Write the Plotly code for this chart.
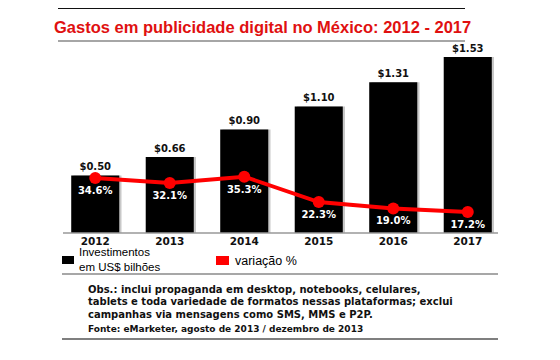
import plotly.graph_objects as go

years = ["2012", "2013", "2014", "2015", "2016", "2017"]
investimentos = [0.50, 0.66, 0.90, 1.10, 1.31, 1.53]
variacao = [34.6, 32.1, 35.3, 22.3, 19.0, 17.2]
valor_labels = ["$0.50", "$0.66", "$0.90", "$1.10", "$1.31", "$1.53"]
var_labels = ["34.6%", "32.1%", "35.3%", "22.3%", "19.0%", "17.2%"]

title_text = "Gastos em publicidade digital no México: 2012 - 2017"
obs_lines = [
    "Obs.: inclui propaganda em desktop, notebooks, celulares,",
    "tablets e toda variedade de formatos nessas plataformas; exclui",
    "campanhas via mensagens como SMS, MMS e P2P.",
]
fonte_text = "Fonte: eMarketer, agosto de 2013 / dezembro de 2013"

OFF = 8  # page body margin
W, H = 560 - OFF, 360 - OFF
PLOT_L, PLOT_R, PLOT_T, PLOT_B = 58, 505, 43, 233  # in reference pixels
L = PLOT_L - OFF
R = W - (PLOT_R - OFF)
T = PLOT_T - OFF
B = H - (PLOT_B - OFF)
PH = PLOT_B - PLOT_T
PW = PLOT_R - PLOT_L


def py(ypx):
    return (PLOT_B - ypx) / PH


def px(xpx):
    return (xpx - PLOT_L) / PW


BW = 0.645
xs = list(range(len(years)))

fig = go.Figure()
# subtle shadow on bars
fig.add_trace(go.Bar(
    x=xs, y=investimentos, width=BW, offset=-BW / 2 + 0.03,
    marker=dict(color="#c8c8c8", line=dict(width=0)),
    hoverinfo="skip", showlegend=False,
))
fig.add_trace(go.Bar(
    x=xs, y=investimentos, width=BW, offset=-BW / 2,
    marker=dict(color="#000000", line=dict(width=0)),
    text=[f"<b>{t}</b>" for t in valor_labels], textposition="outside",
    textfont=dict(family="DejaVu Sans", size=10, color="#111111"),
    cliponaxis=False, showlegend=False,
))
fig.add_trace(go.Scatter(
    x=xs, y=variacao, yaxis="y2", mode="lines+markers+text",
    line=dict(color="#ff0000", width=4),
    marker=dict(color="#ff0000", size=12),
    text=[f"<b>{t}</b>" for t in var_labels], textposition="bottom center",
    textfont=dict(family="DejaVu Sans", size=10, color="#ffffff"),
    cliponaxis=False, showlegend=False,
))

shapes = [
    dict(type="line", xref="paper", yref="paper", x0=px(58), x1=px(465), y0=py(7.5), y1=py(7.5),
         line=dict(color="#111111", width=3)),
    dict(type="line", xref="paper", yref="paper", x0=px(58), x1=px(465), y0=py(41), y1=py(41),
         line=dict(color="#888888", width=1.5)),
    dict(type="line", xref="paper", yref="paper", x0=px(63), x1=px(498), y0=0, y1=0,
         line=dict(color="#999999", width=1.5)),
    dict(type="line", xref="paper", yref="paper", x0=px(62), x1=px(498), y0=py(274), y1=py(274),
         line=dict(color="#8a8a8a", width=1.5)),
    dict(type="line", xref="paper", yref="paper", x0=px(62), x1=px(498), y0=py(339), y1=py(339),
         line=dict(color="#555555", width=1.5)),
    dict(type="rect", xref="paper", yref="paper", x0=px(62), x1=px(74), y0=py(264), y1=py(256),
         fillcolor="#000000", line=dict(width=0)),
    dict(type="rect", xref="paper", yref="paper", x0=px(216), x1=px(229), y0=py(265), y1=py(256),
         fillcolor="#ff0000", line=dict(width=0)),
]

ann = [
    dict(text=f"<b>{title_text}</b>", x=px(262), y=py(27), xanchor="center", yanchor="middle",
         font=dict(family="Liberation Sans", size=16.5, color="#e01010")),
    dict(text="Investimentos<br>em US$ bilhões", x=px(77), y=py(259.5), xanchor="left",
         yanchor="middle", align="left",
         font=dict(family="Liberation Sans", size=11.5, color="#000000")),
    dict(text="variação %", x=px(233), y=py(261), xanchor="left", yanchor="middle",
         font=dict(family="Liberation Sans", size=12.5, color="#000000")),
]
for i, line in enumerate(obs_lines):
    ann.append(dict(text=f"<b>{line}</b>", x=px(86), y=py(289 + 12.5 * i), xanchor="left",
                    yanchor="middle", font=dict(family="DejaVu Sans", size=10, color="#111111")))
ann.append(dict(text=f"<b>{fonte_text}</b>", x=px(86), y=py(329), xanchor="left",
                yanchor="middle", font=dict(family="DejaVu Sans", size=9, color="#111111")))
for a in ann:
    a.update(xref="paper", yref="paper", showarrow=False)

fig.update_layout(
    width=W, height=H,
    margin=dict(l=L, r=R, t=T, b=B),
    paper_bgcolor="white", plot_bgcolor="white",
    barmode="overlay",
    showlegend=False,
    xaxis=dict(range=[-0.5, 5.5], tickvals=xs, ticktext=[f"<b>{y}</b>" for y in years],
               tickfont=dict(family="DejaVu Sans", size=10.5, color="#111111"),
               showgrid=False, zeroline=False, showline=False, ticks="", ticklen=0),
    yaxis=dict(range=[0, 1.652], visible=False, showgrid=False, zeroline=False),
    yaxis2=dict(range=[6.41, 103.85], overlaying="y", visible=False, showgrid=False, zeroline=False),
    shapes=shapes, annotations=ann,
)

fig.write_html("out.html")
